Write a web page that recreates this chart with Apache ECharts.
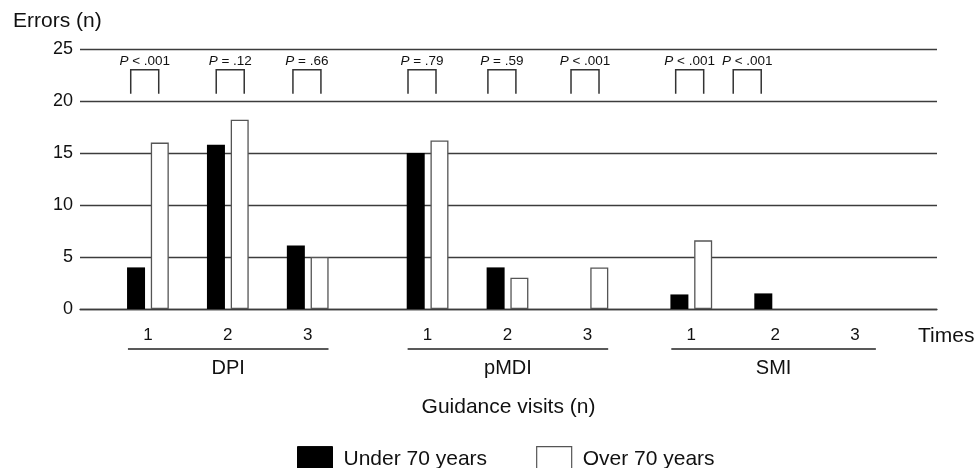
<!DOCTYPE html>
<html>
<head>
<meta charset="utf-8">
<script src="https://cdn.jsdelivr.net/npm/echarts@6/dist/echarts.min.js"></script>
<style>
html,body{margin:0;padding:0;background:#fff;}
#chart{width:975px;height:468px;}
</style>
</head>
<body>
<div id="chart"></div>
<script>
// ---- data ----
var groups = ['DPI', 'pMDI', 'SMI'];
var visitLabels = ['1', '2', '3', '1', '2', '3', '1', '2', '3'];
var visitGroup = [0, 0, 0, 1, 1, 1, 2, 2, 2];
var xPositions = [1, 2, 3, 4.5, 5.5, 6.5, 7.8, 8.85, 9.85];
var under70 = [4, 15.8, 6.1, 15, 4, 0, 1.4, 1.5, 0];
var over70 = [16, 18.2, 5, 16.2, 3, 4, 6.6, 0, 0];
var pLabels = ['< .001', '= .12', '= .66', '= .79', '= .59', '< .001', '< .001', '< .001'];
var pPositions = [0.96, 2.03, 2.99, 4.43, 5.43, 6.47, 7.78, 8.5];
var yTicks = [0, 5, 10, 15, 20, 25];

var FONT = 'Liberation Sans, Arial, sans-serif';
var LINE = '#3c3c3c';

var chart = echarts.init(document.getElementById('chart'));

// zero counts draw no visible bar
function pairs(vals) {
  return vals.map(function (v, i) { return [xPositions[i], v === 0 ? null : v]; });
}

var groupRanges = groups.map(function (g, gi) {
  var ps = xPositions.filter(function (p, i) { return visitGroup[i] === gi; });
  return [ps[0] - 0.25, ps[ps.length - 1] + 0.26, g];
});

var option = {
  animation: false,
  backgroundColor: '#fff',
  textStyle: { fontFamily: FONT },
  title: {
    text: 'Errors (n)',
    left: 8, top: 6,
    textStyle: { fontFamily: FONT, fontSize: 21, fontWeight: 'normal', color: '#111' }
  },
  legend: {
    left: 292, top: 441,
    itemWidth: 35, itemHeight: 25, itemGap: 49,
    icon: 'rect',
    textStyle: { fontFamily: FONT, fontSize: 21, color: '#111', padding: [0, 0, 0, 6] },
    data: [
      { name: 'Under 70 years', itemStyle: { color: '#000', borderColor: '#000', borderWidth: 1 } },
      { name: 'Over 70 years', itemStyle: { color: '#fff', borderColor: '#555', borderWidth: 1.2 } }
    ]
  },
  grid: { left: 80, right: 38, top: 49, bottom: 159 },
  xAxis: {
    type: 'value',
    min: 0.15, max: 10.875,
    splitLine: { show: false },
    axisLine: { show: true, lineStyle: { color: LINE, width: 1.3 } },
    axisTick: { show: false },
    axisLabel: {
      customValues: xPositions,
      margin: 18,
      fontFamily: FONT, fontSize: 17, color: '#111',
      formatter: function (v) {
        var i = xPositions.indexOf(v);
        return i >= 0 ? visitLabels[i] : '';
      }
    },
    name: 'Guidance visits (n)',
    nameLocation: 'middle',
    nameGap: 88,
    nameTextStyle: { fontFamily: FONT, fontSize: 21, color: '#111' }
  },
  yAxis: {
    type: 'value',
    min: yTicks[0], max: yTicks[yTicks.length - 1], interval: 5,
    axisLine: { show: false },
    axisTick: { show: false },
    axisLabel: { margin: 7, fontFamily: FONT, fontSize: 18, color: '#111' },
    splitLine: { show: true, lineStyle: { color: LINE, width: 1.3 } }
  },
  graphic: [
    { type: 'text', left: 918, top: 326,
      style: { text: 'Times', fontFamily: FONT, fontSize: 21, fill: '#111' } }
  ],
  series: [
    {
      name: 'Under 70 years', type: 'bar',
      data: pairs(under70),
      barWidth: 18, barGap: '32%',
      itemStyle: { color: '#000', borderColor: '#000', borderWidth: 0 },
      z: 3
    },
    {
      name: 'Over 70 years', type: 'bar',
      data: pairs(over70),
      barWidth: 18, barGap: '32%',
      itemStyle: { color: '#fff', borderColor: '#555', borderWidth: 1.3 },
      z: 3
    },
    {
      type: 'custom',
      name: 'brackets',
      clip: false,
      silent: true,
      data: pPositions.map(function (p, i) { return [p, i]; }),
      renderItem: function (params, api) {
        var i = api.value(1);
        var top = api.coord([api.value(0), 23]);
        var bot = api.coord([api.value(0), 20.7]);
        var hw = 14;
        return {
          type: 'group',
          children: [
            { type: 'polyline',
              shape: { points: [[top[0] - hw, bot[1]], [top[0] - hw, top[1]], [top[0] + hw, top[1]], [top[0] + hw, bot[1]]] },
              style: { stroke: '#333', lineWidth: 1.5, fill: null } },
            { type: 'text',
              x: top[0], y: top[1] - 9,
              style: {
                text: '{i|P} ' + pLabels[i],
                rich: { i: { fontStyle: 'italic', fontFamily: FONT, fontSize: 13.5, fill: '#111' } },
                fontFamily: FONT, fontSize: 13.5, fill: '#111',
                align: 'center', verticalAlign: 'middle'
              } }
          ]
        };
      },
      z: 4
    },
    {
      type: 'custom',
      name: 'groups',
      clip: false,
      silent: true,
      data: groupRanges.map(function (r, i) { return [r[0], r[1], i]; }),
      renderItem: function (params, api) {
        var a = api.coord([api.value(0), 0]);
        var b = api.coord([api.value(1), 0]);
        var name = groups[api.value(2)];
        return {
          type: 'group',
          children: [
            { type: 'line',
              shape: { x1: a[0], y1: a[1] + 40, x2: b[0], y2: a[1] + 40 },
              style: { stroke: '#222', lineWidth: 1.5 } },
            { type: 'text',
              x: (a[0] + b[0]) / 2, y: a[1] + 59,
              style: { text: name, fontFamily: FONT, fontSize: 20, fill: '#111',
                       align: 'center', verticalAlign: 'middle' } }
          ]
        };
      },
      z: 4
    }
  ]
};

chart.setOption(option);
</script>
</body>
</html>
